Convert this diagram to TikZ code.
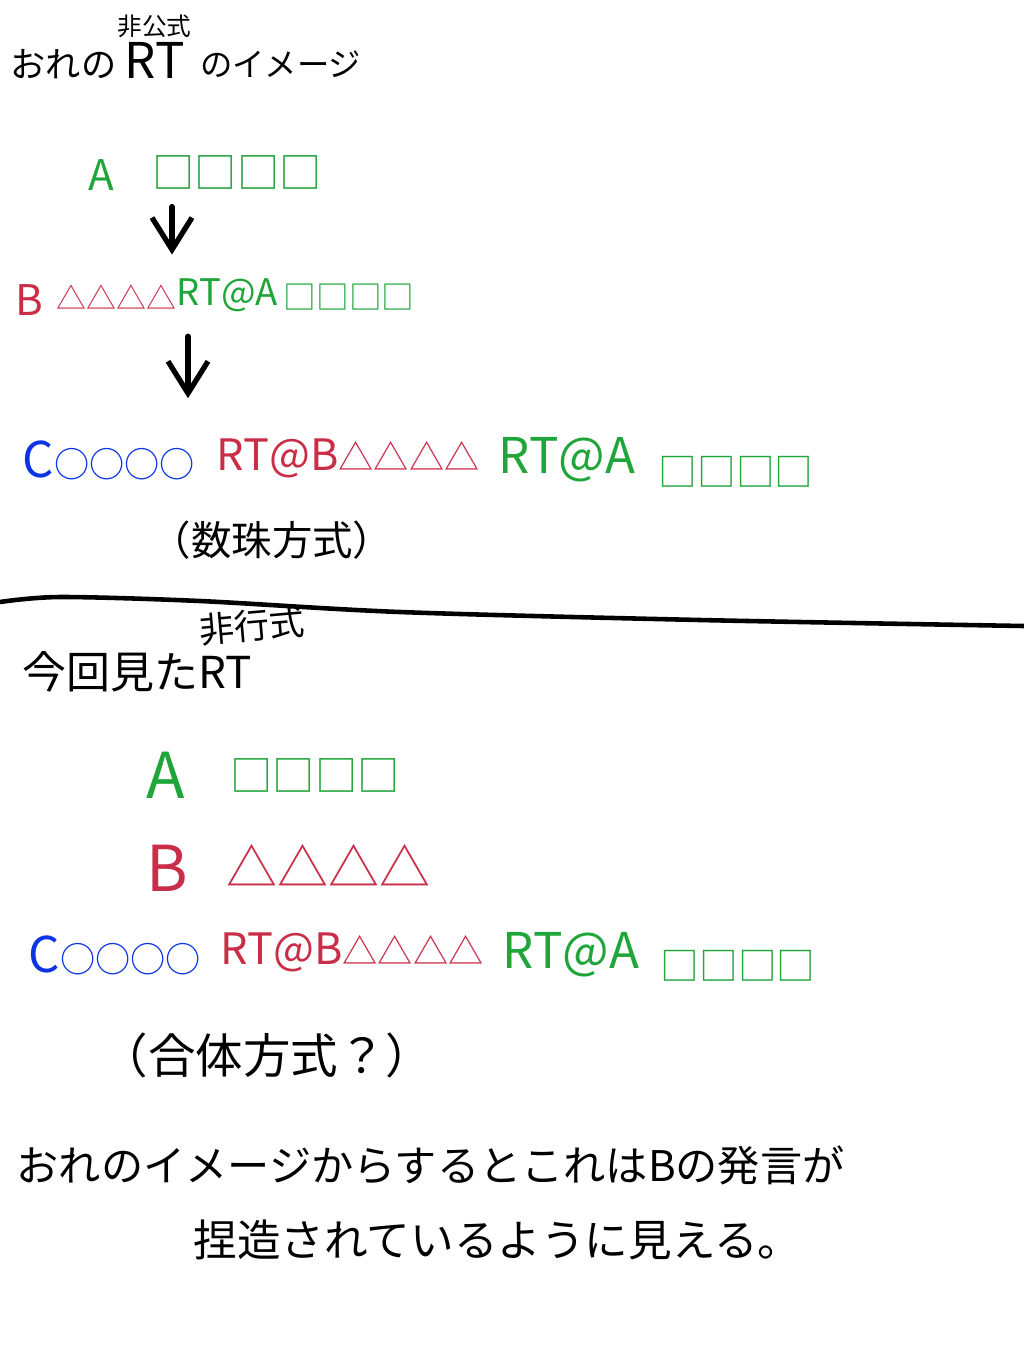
\documentclass[tikz,border=0pt]{standalone}
\usepackage{fontspec}
\setmainfont{Noto Sans CJK JP}
\usetikzlibrary{arrows.meta,positioning}
\definecolor{twgreen}{RGB}{32,165,58}
\definecolor{twred}{RGB}{202,45,72}
\definecolor{twblue}{RGB}{12,52,228}
\newcommand{\fsz}[1]{\fontsize{#1pt}{#1pt}\selectfont}

\begin{document}
\begin{tikzpicture}[
    x=0.01cm,
    y=-0.01cm,
    >={Straight Barb[length=3.2mm,width=4mm]},
    txt/.style={
		inner sep=0pt,
		anchor=west
	},
    grn/.style={
		txt,
		text=twgreen
	},
    rd/.style={
		txt,
		text=twred
	},
    blu/.style={
		txt,
		text=twblue
	},
    pen/.style={
		line width=1.5pt,
		line cap=round
	}
  ]
\useasboundingbox (0,0) rectangle (1024,1350);

% title
 \node [txt, font=\fsz{10}] (title1) at (10,64) {おれの};
 \node [txt, font=\fsz{14}, right=2pt of title1, yshift=1pt] (titleRT) {RT};
 \node [txt, font=\fsz{9.2}, right=4pt of titleRT, yshift=-1pt] (title2) {のイメージ};
 \node [font=\fsz{7}, inner sep=0pt, anchor=south] (ruby1) at ([yshift=1pt]titleRT.north) {非公式};

% first chain
 \node [grn, font=\fsz{12}] (nameA) at (88,175) {A};
 \node [grn, font=\fsz{12}] (sqA) at (152,172) {□□□□};

 \node [rd, font=\fsz{12}] (nameB) at (15,300) {B};
 \node [rd, font=\fsz{8.5}] (triB) at (56,297) {△△△△};
 \node [grn, font=\fsz{10.4}] (rtB) at (176,295) {RT@A};
 \node [grn, font=\fsz{9.3}] (sqB) at (283,297) {□□□□};

 \draw [pen, ->] ([shift={(20,17)}]sqA.south west) -- ++(0,48);
 \draw [pen, ->] ([shift={(12,24)}]rtB.south west) -- ++(0,62);

 \node [blu] (nameC) at (22,460) {{\fsz{14}C}{\fsz{10}○○○○}};
 \node [rd] (rtCB) at (216,458) {{\fsz{12.3}RT@B}{\fsz{10}△△△△}};
 \node [grn, font=\fsz{14}] (rtCA) at (498,460) {RT@A};
 \node [grn, font=\fsz{11}] (sqC) at (658,472) {□□□□};

 \node [txt, font=\fsz{11.5}] (juzu) at (150,540) {（数珠方式）};

% divider
 \draw [line width=1.3pt] plot [smooth] coordinates {(0,602) (60,597) (200,601) (400,612) (700,620) (1024,626)};

% second part
 \node [txt, font=\fsz{12.5}] (seen) at (22,672) {今回見たRT};
 \node [font=\fsz{10}, inner sep=0pt, rotate=5] (ruby2) at (252,626) {非行式};

 \node [grn, font=\fsz{18}] (nameA2) at (146,775) {A};
 \node [grn, font=\fsz{12}] (sqA2) at (230,775) {□□□□};
 \node [rd, font=\fsz{18}] (nameB2) at (146,868) {B};
 \node [rd, font=\fsz{14.5}] (triB2) at (226,865) {△△△△};

 \node [blu] (nameC2) at (28,955) {{\fsz{14}C}{\fsz{10}○○○○}};
 \node [rd] (rtCB2) at (220,952) {{\fsz{12.3}RT@B}{\fsz{10}△△△△}};
 \node [grn, font=\fsz{14}] (rtCA2) at (502,955) {RT@A};
 \node [grn, font=\fsz{11}] (sqC2) at (660,966) {□□□□};

 \node [txt, font=\fsz{13.5}] (gattai) at (100,1055) {（合体方式？）};

 \node [txt, font=\fsz{12}] (note1) at (16,1165) {おれのイメージからするとこれはBの発言が};
 \node [txt, font=\fsz{12.4}] (note2) at (193,1240) {捏造されているように見える。};

\end{tikzpicture}
\end{document}
